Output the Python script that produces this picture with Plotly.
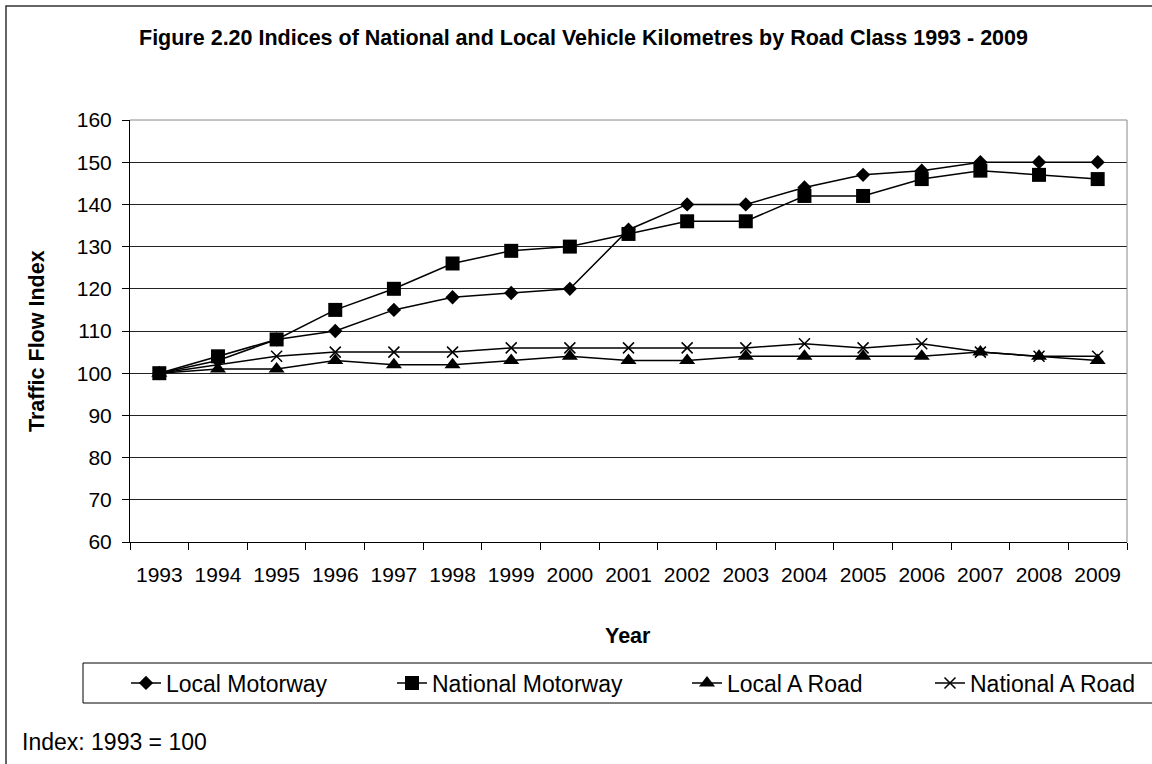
import plotly.graph_objects as go

years = [str(y) for y in range(1993, 2010)]
local_motorway = [100, 103, 108, 110, 115, 118, 119, 120, 134, 140, 140, 144, 147, 148, 150, 150, 150]
national_motorway = [100, 104, 108, 115, 120, 126, 129, 130, 133, 136, 136, 142, 142, 146, 148, 147, 146]
local_a_road = [100, 101, 101, 103, 102, 102, 103, 104, 103, 103, 104, 104, 104, 104, 105, 104, 103]
national_a_road = [100, 102, 104, 105, 105, 105, 106, 106, 106, 106, 106, 107, 106, 107, 105, 104, 104]

W, H = 1152, 764
ML, MR, MT, MB = 130, 25, 120, 222
PW, PH = W - ML - MR, H - MT - MB


def px(x):
    return (x - ML) / PW


def py(y):
    return (H - MB - y) / PH


FONT = "Liberation Sans, Arial, sans-serif"

fig = go.Figure()
series = [
    ("Local Motorway", local_motorway, dict(symbol="diamond", size=11), 221),
    ("National Motorway", national_motorway, dict(symbol="square", size=14), 250),
    ("Local A Road", local_a_road, dict(symbol="triangle-up", size=14), 198),
    ("National A Road", national_a_road, dict(symbol="x-thin-open", size=11, line=dict(width=1.5, color="black")), 175),
]
for name, vals, mk, lw in series:
    fig.add_trace(go.Scatter(
        x=years, y=vals, name=name, mode="lines+markers",
        line=dict(color="black", width=1.5),
        marker=dict(color="black", **mk),
        legendwidth=lw,
    ))

fig.update_layout(
    width=W, height=H,
    margin=dict(l=ML, r=MR, t=MT, b=MB),
    paper_bgcolor="white", plot_bgcolor="white",
    font=dict(family=FONT, color="black", size=21),
    showlegend=True,
    legend=dict(orientation="h", x=px(126), xanchor="left", y=py(683), yanchor="middle",
                font=dict(size=23, family=FONT), borderwidth=0, bgcolor="rgba(0,0,0,0)",
                itemsizing="trace"),
    xaxis=dict(type="category", range=[-0.5, 16.5], showgrid=False, showline=True,
               linecolor="black", linewidth=1,
               ticks="outside", tickson="boundaries", ticklen=7, tickcolor="black",
               tickangle=0, tickfont=dict(size=21), ticklabelstandoff=14),
    yaxis=dict(range=[60, 160], dtick=10, showgrid=True, gridcolor="#222222", gridwidth=1,
               showline=True, linecolor="black", linewidth=1, zeroline=False,
               ticks="outside", ticklen=7, tickcolor="black", tickfont=dict(size=21),
               ticklabelstandoff=6),
)

shapes = [
    dict(type="rect", xref="paper", yref="paper", x0=px(6), y0=py(6), x1=px(1162), y1=py(775),
         line=dict(color="#333333", width=1.5), fillcolor="rgba(0,0,0,0)", layer="above"),
    dict(type="line", xref="paper", yref="paper", x0=0, x1=1, y0=1, y1=1,
         line=dict(color="#888888", width=1), layer="above"),
    dict(type="line", xref="paper", yref="paper", x0=1, x1=1, y0=0, y1=1,
         line=dict(color="#888888", width=1), layer="above"),
    dict(type="rect", xref="paper", yref="paper", x0=px(83), y0=py(663), x1=px(1162), y1=py(703),
         line=dict(color="black", width=1), fillcolor="rgba(0,0,0,0)", layer="above"),
]
fig.update_layout(shapes=shapes)

annotations = [
    dict(text="<b>Figure 2.20 Indices of National and Local Vehicle Kilometres by Road Class 1993 - 2009</b>",
         x=px(583), y=py(38), xref="paper", yref="paper", showarrow=False,
         xanchor="center", yanchor="middle", font=dict(size=21.5, family=FONT)),
    dict(text="<b>Traffic Flow Index</b>", x=px(37), y=py(341), xref="paper", yref="paper",
         showarrow=False, textangle=-90, xanchor="center", yanchor="middle",
         font=dict(size=21.5, family=FONT)),
    dict(text="<b>Year</b>", x=px(628), y=py(636), xref="paper", yref="paper", showarrow=False,
         xanchor="center", yanchor="middle", font=dict(size=21.5, family=FONT)),
    dict(text="Index: 1993 = 100", x=px(20), y=py(742), xref="paper", yref="paper", showarrow=False,
         xanchor="left", yanchor="middle", font=dict(size=23, family=FONT)),
]
fig.update_layout(annotations=annotations)

fig.write_html("out.html", config={"displayModeBar": False},
               post_script="document.body.style.margin='0px';")
